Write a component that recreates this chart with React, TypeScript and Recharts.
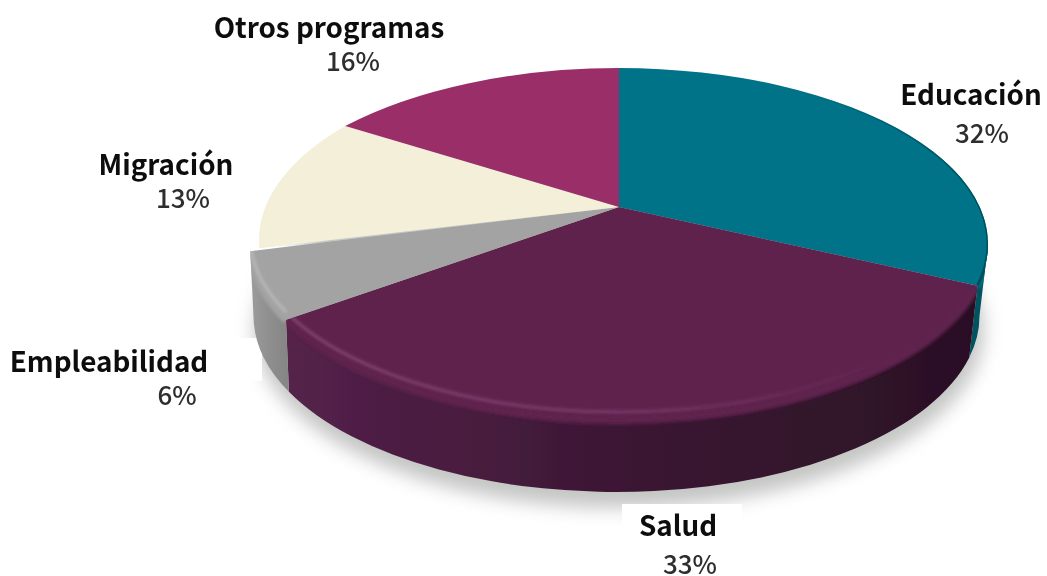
import React from 'react';
import { PieChart, Pie } from 'recharts';

const categories = ['Educación', 'Salud', 'Empleabilidad', 'Migración', 'Otros programas'];
const shares = [32, 33, 6, 13, 16];

const topColors = ['#007388', '#5f234e', '#a3a3a3', '#f3efd9', '#992f68'];
// left, middle, right of the side wall
const wallColors = [
  ['#00525f', '#00525f', '#003e48'],
  ['#55214b', '#3b1733', '#2a1024'],
  ['#9c9c9c', '#8f8f8f', '#868686'],
  ['#cccccc', '#cccccc', '#cccccc'],
  ['#6f2149', '#6f2149', '#6f2149'],
];
const edgeColors = ['#0b8197', '#844272', '#b8b8b8', '#ffffff', '#ffffff'];

const labelSpots = [
  { x: 971, y: 105, px: 982, py: 143 },
  { x: 678, y: 536, px: 690, py: 574 },
  { x: 109, y: 372, px: 177, py: 405 },
  { x: 166, y: 175, px: 183, py: 208 },
  { x: 329, y: 38, px: 353, py: 71 },
];

const pieData = categories.map((name, i) => ({ name, value: shares[i], fill: topColors[i], idx: i }));

const CX = 619;
const CY = 244;
const RX = 369;
const RY = 176;
const DEPTH = 72;
const BOTTOM_CX = 616.5; // the lower rim is a bit narrower than the top face
const BOTTOM_RX = 363;
const APEX = -0.21; // how far the hub sits above the ellipse centre (perspective)
const FONT = '"Noto Sans CJK SC", "Noto Sans", sans-serif';

// project a point of the flat circle onto the tilted ellipse
function project(deg: number) {
  const a = (deg * Math.PI) / 180;
  const x = Math.cos(a);
  const y = -Math.sin(a);
  const d = 1 + APEX * y;
  const px = (x * Math.sqrt(1 - APEX * APEX)) / d;
  const py = (y + APEX) / d;
  return { px, py, t: (Math.atan2(py, px) * 180) / Math.PI };
}

const pt = (t: number, dy = 0) => {
  const a = (t * Math.PI) / 180;
  return `${CX + RX * Math.cos(a)} ${CY + RY * Math.sin(a) + dy}`;
};

const ptLow = (t: number) => {
  const a = (t * Math.PI) / 180;
  return `${BOTTOM_CX + BOTTOM_RX * Math.cos(a)} ${CY + DEPTH + RY * Math.sin(a)}`;
};

// visible part of a slice's outer edge, as ellipse parameter range
function frontRange(startAngle: number, endAngle: number) {
  let t1 = project(startAngle).t;
  let t2 = project(endAngle).t;
  while (t2 <= t1) t2 += 360;
  if (t1 < 0) {
    t1 += 360;
    t2 += 360;
  }
  for (const base of [0, 360]) {
    const a = Math.max(t1, base);
    const b = Math.min(t2, base + 180);
    if (b > a) return [a, b];
  }
  return null;
}

function Slice(props: any) {
  const { startAngle, endAngle, fill, payload } = props;
  const idx = payload.idx;
  const s = project(startAngle);
  const e = project(endAngle);
  const hubY = CY + APEX * RY;
  const sx = CX + RX * s.px;
  const sy = CY + RY * s.py;
  // the cream slice sits slightly inside the grey one at its lower end
  const inset = idx === 3 ? 9 : 0;
  const sxIn = sx + inset;
  const syIn = sy - (inset ? 3 : 0);
  const ex = CX + RX * e.px;
  const ey = CY + RY * e.py;
  const sweep = (e.t - s.t + 360) % 360;
  const large = sweep > 180 ? 1 : 0;
  const top = `M ${CX} ${hubY} L ${sxIn} ${syIn} A ${RX - inset} ${RY} 0 ${large} 1 ${ex} ${ey} Z`;
  const range = frontRange(startAngle, endAngle);
  const wall = wallColors[idx];
  const wallPath = range
    ? `M ${pt(range[0])} A ${RX} ${RY} 0 0 1 ${pt(range[1])} L ${ptLow(range[1])} A ${BOTTOM_RX} ${RY} 0 0 0 ${ptLow(range[0])} Z`
    : '';
  return (
    <g filter="url(#tiny)">
      <defs>
        <clipPath id={`body${idx}`}>
          <path d={top} />
          {range && <path d={wallPath} />}
        </clipPath>
        {range && (
          <linearGradient id={`wall${idx}`} gradientUnits="userSpaceOnUse" x1={CX + RX * Math.cos((range[1] * Math.PI) / 180)} x2={CX + RX * Math.cos((range[0] * Math.PI) / 180)} y1="0" y2="0">
            <stop offset="0%" stopColor={wall[0]} />
            <stop offset="50%" stopColor={wall[1]} />
            <stop offset="100%" stopColor={wall[2]} />
          </linearGradient>
        )}
        <linearGradient id={`edge${idx}`} gradientUnits="userSpaceOnUse" x1="270" x2="880" y1="0" y2="0">
          <stop offset="0%" stopColor={edgeColors[idx]} stopOpacity="1" />
          <stop offset="55%" stopColor={edgeColors[idx]} stopOpacity="0.7" />
          <stop offset="100%" stopColor={edgeColors[idx]} stopOpacity="0" />
        </linearGradient>
        <linearGradient id="tealRim" gradientUnits="userSpaceOnUse" x1="800" x2="960" y1="0" y2="0">
          <stop offset="0%" stopColor="#004f5c" stopOpacity="0" />
          <stop offset="100%" stopColor="#004f5c" stopOpacity="1" />
        </linearGradient>
      </defs>
      {range && <path d={wallPath} fill={`url(#wall${idx})`} />}
      <path d={top} fill={fill} />
      <g clipPath={`url(#body${idx})`}>
        {range && (
          // soft fold between the top face and the wall
          <path
            d={`M ${pt(range[0], 1)} A ${RX} ${RY} 0 0 1 ${pt(range[1], 1)}`}
            fill="none"
            stroke={fill}
            strokeWidth={6}
            filter="url(#soft)"
          />
        )}
        {range && idx !== 0 && (
          <path
            d={`M ${pt(range[0], -8)} A ${RX} ${RY} 0 0 1 ${pt(range[1], -8)}`}
            fill="none"
            stroke={`url(#edge${idx})`}
            strokeWidth={3}
            filter="url(#soft)"
          />
        )}
        {idx === 0 && (
          <path
            d={`M ${pt(-70)} A ${RX} ${RY} 0 0 1 ${pt(e.t)}`}
            fill="none"
            stroke="url(#tealRim)"
            strokeWidth={3}
            filter="url(#tiny)"
          />
        )}
      </g>
    </g>
  );
}

function SliceLabel(props: any) {
  const spot = labelSpots[props.index];
  const name = categories[props.index];
  const share = shares[props.index];
  return (
    <g filter="url(#tiny)">
      <text x={spot.x} y={spot.y} textAnchor="middle" fontFamily={FONT} fontSize={27.8} fontWeight={700} fill="#0c0c0c">
        {name}
      </text>
      <text x={spot.px} y={spot.py} textAnchor="middle" fontFamily={FONT} fontSize={26} fontWeight={500} fill="#2e2e2e">
        {share}%
      </text>
    </g>
  );
}

export default function App() {
  return (
    <div style={{ position: 'absolute', left: 0, top: 0, width: 1047, height: 576, background: '#ffffff' }}>
      <PieChart width={1047} height={576} margin={{ top: 0, right: 0, bottom: 0, left: 0 }}>
        <defs>
          <filter id="tiny" x="-5%" y="-5%" width="110%" height="110%">
            <feGaussianBlur stdDeviation="0.5" />
          </filter>
          <filter id="soft" x="-10%" y="-20%" width="120%" height="140%">
            <feGaussianBlur stdDeviation="1.8" />
          </filter>
          <filter id="shadow" x="-10%" y="-20%" width="120%" height="140%">
            <feGaussianBlur stdDeviation="9" />
          </filter>
        </defs>
        <ellipse cx={CX} cy={CY + DEPTH + 14} rx={RX - 4} ry={RY + 2} fill="#c4c6c4" filter="url(#shadow)" />
        <rect x={0} y={338} width={262} height={43} fill="#ffffff" />
        <rect x={622} y={504} width={120} height={72} fill="#ffffff" />
        <Pie
          data={pieData}
          dataKey="value"
          nameKey="name"
          cx={CX}
          cy={CY}
          outerRadius={RX}
          startAngle={90}
          endAngle={-270}
          stroke="none"
          shape={Slice}
          label={SliceLabel}
          labelLine={false}
          isAnimationActive={false}
        />
      </PieChart>
    </div>
  );
}
